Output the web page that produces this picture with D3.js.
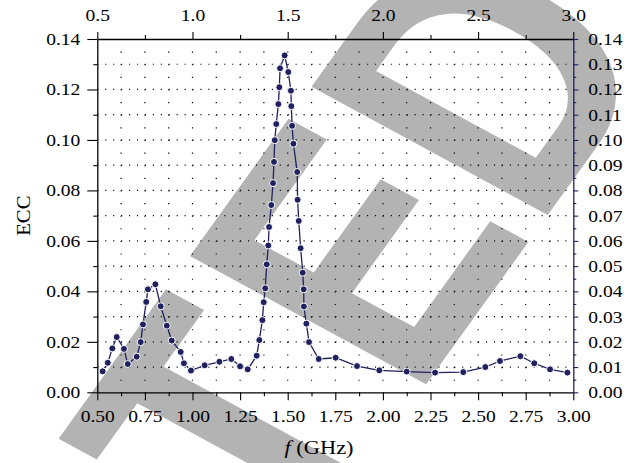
<!DOCTYPE html>
<html>
<head>
<meta charset="utf-8">
<script src="https://cdn.jsdelivr.net/npm/d3@7"></script>
<style>
  body { margin: 0; background: #fff; }
  svg { display: block; }
  text { font-family: "Liberation Serif", "Times New Roman", serif; }
</style>
</head>
<body>
<div id="chart"></div>
<script>
// measured ECC curve (frequency in GHz)
const freq = [0.528, 0.555, 0.579, 0.602, 0.640, 0.660, 0.707, 0.728, 0.740, 0.757,
    0.766, 0.805, 0.833, 0.865, 0.891, 0.938, 0.955, 0.992, 1.064, 1.141,
    1.204, 1.250, 1.290, 1.337, 1.351, 1.367, 1.374, 1.382, 1.390, 1.398,
    1.402, 1.414, 1.423, 1.428, 1.432, 1.440, 1.451, 1.456, 1.460, 1.484,
    1.503, 1.517, 1.519, 1.523, 1.530, 1.550, 1.552, 1.558, 1.568, 1.579,
    1.584, 1.585, 1.598, 1.612, 1.663, 1.752, 1.864, 1.981, 2.125, 2.274,
    2.422, 2.538, 2.615, 2.722, 2.795, 2.878, 2.969];
const ecc = [0.0083, 0.0117, 0.0174, 0.0219, 0.0172, 0.0112, 0.0141, 0.0199, 0.0269, 0.0358,
    0.0408, 0.0428, 0.0341, 0.0264, 0.0205, 0.0160, 0.0115, 0.0086, 0.0107, 0.0121,
    0.0132, 0.0103, 0.0091, 0.0145, 0.0207, 0.0286, 0.0357, 0.0412, 0.0507, 0.0582,
    0.0655, 0.0742, 0.0829, 0.0913, 0.0999, 0.1063, 0.1142, 0.1209, 0.1284, 0.1335,
    0.1269, 0.1195, 0.1134, 0.1056, 0.0985, 0.0873, 0.0763, 0.0679, 0.0571, 0.0474,
    0.0408, 0.0340, 0.0272, 0.0199, 0.0132, 0.0137, 0.0104, 0.0087, 0.0082, 0.0078,
    0.0080, 0.0100, 0.0124, 0.0143, 0.0115, 0.0091, 0.0078];

const topTicks = [0.5, 1.0, 1.5, 2.0, 2.5, 3.0];
const bottomTicks = [0.50, 0.75, 1.00, 1.25, 1.50, 1.75, 2.00, 2.25, 2.50, 2.75, 3.00];
const leftTicks = [0.00, 0.02, 0.04, 0.06, 0.08, 0.10, 0.12, 0.14];
const rightTicks = [0.00, 0.01, 0.02, 0.03, 0.04, 0.05, 0.06, 0.07, 0.08, 0.09, 0.10, 0.11, 0.12, 0.13, 0.14];

const W = 639, H = 463;
const margin = {top: 39, right: 65.7, bottom: 70.7, left: 97.3};
const width = W - margin.left - margin.right;
const height = H - margin.top - margin.bottom;
const navy = "#21215f";
const sx = "scale(1.15,1)";

const svg = d3.select("#chart").append("svg")
    .attr("width", W)
    .attr("height", H);

// grey diagonal watermark sitting behind the plot
const wmSize = 352;
const mark = svg.append("g")
    .attr("transform", "translate(303,80) scale(1.15,1) rotate(-58) scale(0.85,1)");
const wm = mark.append("text")
    .text("RETRACTED")
    .style("font-family", "Liberation Sans")
    .attr("font-weight", "bold")
    .attr("font-size", wmSize)
    .attr("fill", "#b3b3b3");
const dPos = wm.node().getStartPositionOfChar(8).x;
const tGap = 19; // the T sits a bit further from the E than in Liberation Sans
wm.attr("x", -dPos - 0.073 * wmSize - tGap)
    .attr("dx", "0 0 0 0 0 0 0 " + tGap)
    .attr("y", 0.716 * wmSize);

const g = svg.append("g")
    .attr("transform", "translate(" + margin.left + "," + margin.top + ")");

let x = d3.scaleLinear().domain([0.5, 3.0]).range([0, width]);
let y = d3.scaleLinear().domain([0, 0.14]).range([height, 0]);

// dotted grid
const hStep = (x(0.625) - x(0.5)) / 3;
const vStep = y(0) - y(0.005);
g.append("g").selectAll("line")
    .data(rightTicks.slice(1, -1))
    .join("line")
    .attr("x1", 0).attr("x2", width)
    .attr("y1", d => y(d)).attr("y2", d => y(d))
    .attr("stroke", "#000").attr("stroke-width", 1.2)
    .attr("stroke-dasharray", "1.1," + (hStep - 1.1));
g.append("g").selectAll("line")
    .data(d3.range(0.625, 2.99, 0.125))
    .join("line")
    .attr("x1", d => x(d)).attr("x2", d => x(d))
    .attr("y1", 0).attr("y2", height)
    .attr("stroke", "#000").attr("stroke-width", 1.2)
    .attr("stroke-dasharray", "1.1," + (vStep - 1.1));

// axes
const minorX = d3.range(0.625, 2.99, 0.25);
const minorTop = d3.range(0.75, 2.99, 0.5);
const minorY = d3.range(0.01, 0.14, 0.02);
const minorR = d3.range(0.005, 0.14, 0.01);

g.append("g").attr("transform", "translate(0," + height + ")")
    .call(d3.axisBottom(x).tickValues(minorX).tickSize(4).tickFormat(""))
    .call(a => a.select(".domain").remove());
const xb = g.append("g").attr("transform", "translate(0," + height + ")")
    .call(d3.axisBottom(x).tickValues(bottomTicks).tickSize(8).tickSizeOuter(0).tickFormat(d3.format(".2f")));

g.append("g")
    .call(d3.axisTop(x).tickValues(minorTop).tickSize(4).tickFormat(""))
    .call(a => a.select(".domain").remove());
const xt = g.append("g")
    .call(d3.axisTop(x).tickValues(topTicks).tickSize(7).tickSizeOuter(0).tickFormat(d3.format(".1f")));

g.append("g")
    .call(d3.axisLeft(y).tickValues(minorY).tickSize(4).tickFormat(""))
    .call(a => a.select(".domain").remove());
const yl = g.append("g")
    .call(d3.axisLeft(y).tickValues(leftTicks).tickSize(10).tickSizeOuter(0).tickFormat(d3.format(".2f")));

g.append("g").attr("transform", "translate(" + width + ",0)").attr("color", navy)
    .call(d3.axisRight(y).tickValues(minorR).tickSize(3).tickFormat(""))
    .call(a => a.select(".domain").remove());
const yr = g.append("g").attr("transform", "translate(" + width + ",0)")
    .attr("color", navy)
    .call(d3.axisRight(y).tickValues(rightTicks).tickSize(5).tickSizeOuter(0).tickFormat(d3.format(".2f")));

svg.selectAll(".tick text")
    .attr("font-size", 17)
    .style("font-family", "Liberation Serif")
    .attr("fill", "#000")
    .attr("transform", sx);
svg.selectAll(".domain").attr("stroke-width", 1.3);
svg.selectAll(".tick line").attr("stroke-width", 1.1);

xb.selectAll("text").attr("y", 29.4).attr("dy", 0);
xt.selectAll("text").attr("y", -18.3).attr("dy", 0);
yl.selectAll("text").attr("x", -17 / 1.15);
yr.selectAll("text").attr("x", 15 / 1.15);

// curve and markers
const pts = freq.map((f, i) => ({f: f, v: ecc[i]}));
g.append("path")
    .datum(pts)
    .attr("fill", "none")
    .attr("stroke", navy)
    .attr("stroke-width", 1.3)
    .attr("d", d3.line().x(d => x(d.f)).y(d => y(d.v)));
g.append("g").selectAll("circle")
    .data(pts)
    .join("circle")
    .attr("cx", d => x(d.f))
    .attr("cy", d => y(d.v))
    .attr("r", 3.5)
    .attr("fill", navy)
    .attr("stroke", "#fff")
    .attr("stroke-width", 1);

// axis titles
svg.append("text")
    .attr("transform", "translate(30," + (margin.top + height / 2) + ") rotate(-90) " + sx)
    .attr("text-anchor", "middle")
    .attr("font-size", 18)
    .text("ECC");

const xt2 = svg.append("text")
    .attr("transform", "translate(319,454) " + sx)
    .attr("text-anchor", "middle")
    .attr("font-size", 19.5);
xt2.append("tspan").attr("font-style", "italic").text("f");
xt2.append("tspan").text(" (GHz)");
</script>
</body>
</html>
